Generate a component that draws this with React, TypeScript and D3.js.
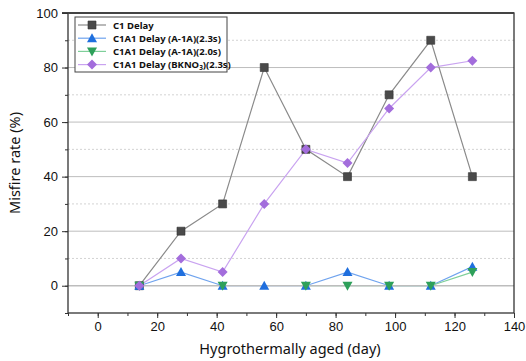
import {useEffect, useRef} from "react";
import * as d3 from "d3";

const days = [14, 28, 42, 56, 70, 84, 98, 112, 126];
const c1Delay = [0, 20, 30, 80, 50, 40, 70, 90, 40];
const a1a23 = [0, 5, 0, 0, 0, 5, 0, 0, 7];
const a1a20 = [0, NaN, 0, NaN, 0, 0, 0, 0, 5];
const bkno3 = [0, 10, 5, 30, 50, 45, 65, 80, 82.5];

const xTicks = [0, 20, 40, 60, 80, 100, 120, 140];
const yTicks = [0, 20, 40, 60, 80, 100];

const series = [
    {name: "C1 Delay", values: c1Delay, line: "#8a8a8a", fill: "#4a4a4a", shape: "square"},
    {name: "C1A1 Delay (A-1A)(2.3s)", values: a1a23, line: "#6fa3ee", fill: "#1f6fde", shape: "up"},
    {name: "C1A1 Delay (A-1A)(2.0s)", values: a1a20, line: "#7fcf9a", fill: "#2ea05a", shape: "down"},
    {name: "C1A1 Delay (BKNO3)(2.3s)", values: bkno3, line: "#c9a3f0", fill: "#a36ddc", shape: "diamond"},
];

function markerPath(shape: string) {
    if (shape === "square") return "M-4,-4H4V4H-4Z";
    if (shape === "up") return "M0,-5L5,4H-5Z";
    if (shape === "down") return "M0,5L5,-4H-5Z";
    return "M0,-5L5,0L0,5L-5,0Z";
}

export default function App() {
    const ref = useRef<SVGSVGElement>(null);

    useEffect(() => {
        const svg = d3.select(ref.current);
        svg.selectAll("*").remove();

        const x = d3.scaleLinear().domain([-10, 140]).range([68, 514]);
        const y = d3.scaleLinear().domain([-10, 100]).range([313, 13]);
        const font = "Liberation Sans, Arial, sans-serif";

        // grid: dotted minors, solid majors
        const grid = svg.append("g");
        d3.range(10, 100, 20).forEach(v => {
            grid.append("line")
                .attr("x1", 68).attr("x2", 514)
                .attr("y1", y(v)).attr("y2", y(v))
                .attr("stroke", "#c8c8c8").attr("stroke-dasharray", "2,2").attr("stroke-width", 0.8);
        });
        [20, 40, 60, 80].forEach(v => {
            grid.append("line")
                .attr("x1", 68).attr("x2", 514)
                .attr("y1", y(v)).attr("y2", y(v))
                .attr("stroke", "#bdbdbd").attr("stroke-width", 1);
        });

        const line = d3.line<number>()
            .defined(d => !isNaN(d))
            .x((d, i) => x(days[i]))
            .y(d => y(d));

        for (const s of series) {
            svg.append("path")
                .attr("d", line(s.values))
                .attr("fill", "none")
                .attr("stroke", s.line)
                .attr("stroke-width", 1.2);
        }

        // zero line sits on top of the series lines
        svg.append("line")
            .attr("x1", 68).attr("x2", 514)
            .attr("y1", y(0)).attr("y2", y(0))
            .attr("stroke", "#bdbdbd").attr("stroke-width", 1.5);

        for (const s of series) {
            svg.append("g").selectAll("path")
                .data(s.values.map((v, i) => [days[i], v]).filter(d => !isNaN(d[1])))
                .enter().append("path")
                .attr("d", markerPath(s.shape))
                .attr("transform", d => `translate(${x(d[0])},${y(d[1])})`)
                .attr("fill", s.fill)
                .attr("stroke", s.shape === "square" ? "#333" : "none")
                .attr("stroke-width", 0.6);
        }

        // frame
        svg.append("rect")
            .attr("x", 68).attr("y", 13).attr("width", 514 - 68).attr("height", 313 - 13)
            .attr("fill", "none").attr("stroke", "#333").attr("stroke-width", 1.3);
        svg.append("line").attr("x1", 62).attr("x2", 514).attr("y1", 13).attr("y2", 13)
            .attr("stroke", "#444").attr("stroke-width", 2.2);

        // x axis
        const xAxis = svg.append("g").attr("transform", "translate(0,313)");
        xAxis.call(d3.axisBottom(x).tickValues(d3.range(-10, 141, 10)).tickSize(3).tickFormat(() => ""));
        xAxis.call(g => g.select(".domain").remove());
        const xMajor = svg.append("g").attr("transform", "translate(0,313)")
            .call(d3.axisBottom(x).tickValues(xTicks).tickSize(5).tickPadding(4));
        xMajor.select(".domain").remove();
        xMajor.selectAll("text").attr("font-size", 13).attr("font-family", font).attr("fill", "#111");

        // y axis
        const yAxis = svg.append("g").attr("transform", "translate(68,0)");
        yAxis.call(d3.axisLeft(y).tickValues(d3.range(-10, 101, 10)).tickSize(3).tickFormat(() => ""));
        yAxis.call(g => g.select(".domain").remove());
        const yMajor = svg.append("g").attr("transform", "translate(68,0)")
            .call(d3.axisLeft(y).tickValues(yTicks).tickSize(6).tickPadding(4));
        yMajor.select(".domain").remove();
        yMajor.selectAll("text").attr("font-size", 13).attr("font-family", font).attr("fill", "#111");
        svg.selectAll(".tick line").attr("stroke", "#333");

        svg.append("text")
            .attr("x", 290).attr("y", 354)
            .attr("text-anchor", "middle")
            .attr("font-size", 14.5).attr("font-family", "Noto Sans, sans-serif").attr("fill", "#111")
            .text("Hygrothermally aged (day)");
        svg.append("text")
            .attr("transform", "translate(20,163) rotate(-90)")
            .attr("text-anchor", "middle")
            .attr("font-size", 14.5).attr("font-family", "Noto Sans, sans-serif").attr("fill", "#111")
            .text("Misfire rate (%)");

        // legend
        const lg = svg.append("g").attr("transform", "translate(75,17)");
        lg.append("rect").attr("width", 152).attr("height", 55)
            .attr("fill", "white").attr("stroke", "#444").attr("stroke-width", 1);
        series.forEach((s, i) => {
            const ry = 8 + i * 13.2;
            lg.append("line").attr("x1", 3).attr("x2", 31).attr("y1", ry).attr("y2", ry)
                .attr("stroke", s.line).attr("stroke-width", 1.2);
            lg.append("path").attr("d", markerPath(s.shape))
                .attr("transform", `translate(17,${ry})`)
                .attr("fill", s.fill)
                .attr("stroke", s.shape === "square" ? "#333" : "none").attr("stroke-width", 0.6);
            const t = lg.append("text").attr("x", 38).attr("y", ry + 3.5)
                .attr("font-size", 9.5).attr("font-weight", "bold")
                .attr("font-family", "Noto Sans, sans-serif").attr("fill", "#111");
            if (s.shape === "diamond") {
                t.append("tspan").text("C1A1 Delay (BKNO");
                t.append("tspan").attr("font-size", 6.5).attr("dy", 2).text("3");
                t.append("tspan").attr("dy", -2).text(")(2.3s)");
            } else {
                t.text(s.name);
            }
        });
    }, []);

    return <svg ref={ref} width={526} height={361}
                style={{position: "absolute", left: 0, top: 0, background: "white"}}/>;
}
